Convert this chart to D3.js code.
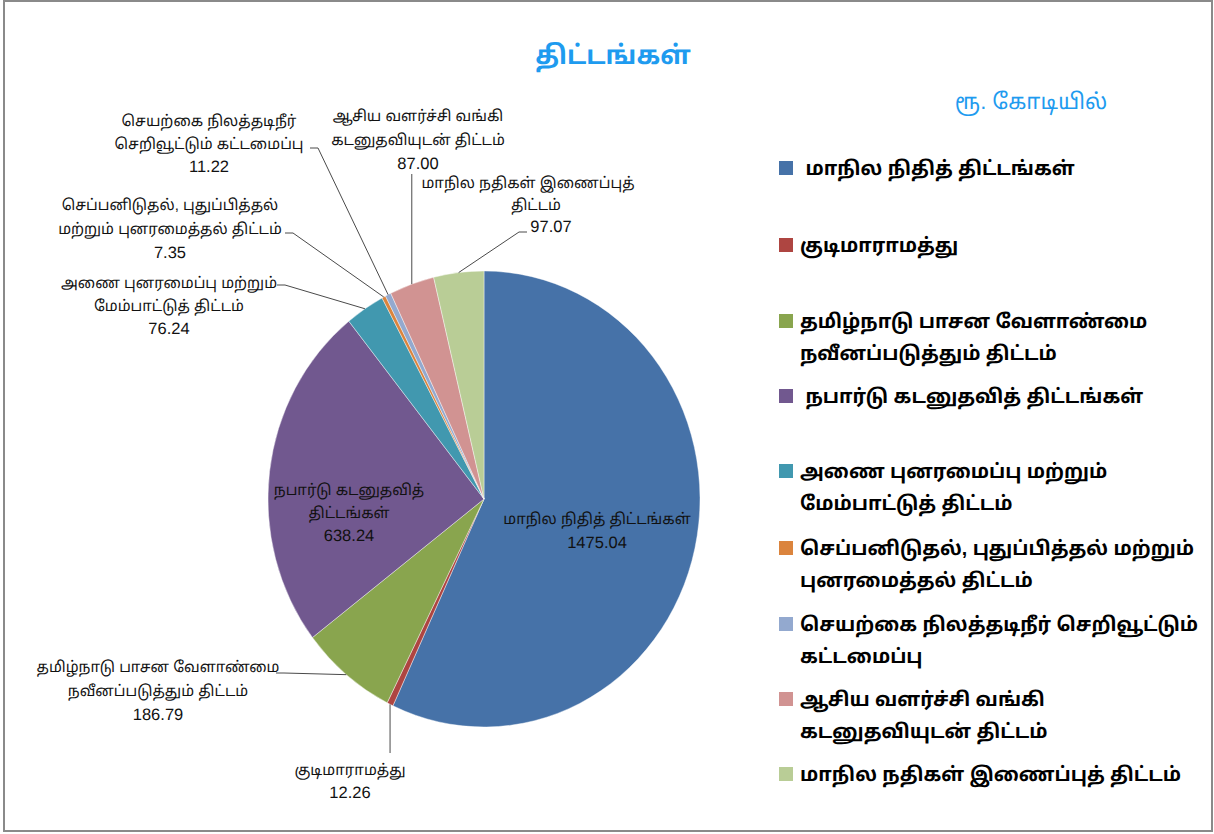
<!DOCTYPE html>
<html><head><meta charset="utf-8">
<script src="https://cdn.jsdelivr.net/npm/d3@7"></script>
<style>
html,body{margin:0;padding:0;background:#fff;}
svg{display:block;}
text{font-family:"Liberation Sans","Noto Sans Tamil",Arial,sans-serif;text-rendering:geometricPrecision;}
</style></head>
<body>
<svg id="chart" width="1214" height="834"></svg>
<script>
// ---- data ----
const categories = [
  "மாநில நிதித் திட்டங்கள்",
  "குடிமாராமத்து",
  "தமிழ்நாடு பாசன வேளாண்மை நவீனப்படுத்தும் திட்டம்",
  "நபார்டு கடனுதவித் திட்டங்கள்",
  "அணை புனரமைப்பு மற்றும் மேம்பாட்டுத் திட்டம்",
  "செப்பனிடுதல், புதுப்பித்தல் மற்றும் புனரமைத்தல் திட்டம்",
  "செயற்கை நிலத்தடிநீர் செறிவூட்டும் கட்டமைப்பு",
  "ஆசிய வளர்ச்சி வங்கி கடனுதவியுடன் திட்டம்",
  "மாநில நதிகள் இணைப்புத் திட்டம்"
];
const values = [1475.04, 12.26, 186.79, 638.24, 76.24, 7.35, 11.22, 87.00, 97.07];
const valueLabels = ["1475.04","12.26","186.79","638.24","76.24","7.35","11.22","87.00","97.07"];
const labelLines = [
  ["மாநில நிதித் திட்டங்கள்"],
  ["குடிமாராமத்து"],
  ["தமிழ்நாடு பாசன வேளாண்மை","நவீனப்படுத்தும் திட்டம்"],
  ["நபார்டு கடனுதவித்","திட்டங்கள்"],
  ["அணை புனரமைப்பு மற்றும்","மேம்பாட்டுத் திட்டம்"],
  ["செப்பனிடுதல், புதுப்பித்தல்","மற்றும் புனரமைத்தல் திட்டம்"],
  ["செயற்கை நிலத்தடிநீர்","செறிவூட்டும் கட்டமைப்பு"],
  ["ஆசிய வளர்ச்சி வங்கி","கடனுதவியுடன் திட்டம்"],
  ["மாநில நதிகள் இணைப்புத்","திட்டம்"]
];
const legendLines = [
  [" மாநில நிதித் திட்டங்கள்"],
  ["குடிமாராமத்து"],
  ["தமிழ்நாடு பாசன வேளாண்மை","நவீனப்படுத்தும் திட்டம்"],
  [" நபார்டு கடனுதவித் திட்டங்கள்"],
  ["அணை புனரமைப்பு மற்றும்","மேம்பாட்டுத் திட்டம்"],
  ["செப்பனிடுதல், புதுப்பித்தல் மற்றும்","புனரமைத்தல் திட்டம்"],
  ["செயற்கை நிலத்தடிநீர் செறிவூட்டும்","கட்டமைப்பு"],
  ["ஆசிய வளர்ச்சி வங்கி","கடனுதவியுடன் திட்டம்"],
  ["மாநில நதிகள் இணைப்புத் திட்டம்"]
];
const colors = ["#4672A8","#AE4541","#89A54E","#71588F","#4198AF","#DB843D","#93A9CF","#D19392","#B9CD96"];
const titleText = "திட்டங்கள்";
const unitText = "ரூ. கோடியில்";

// ---- layout (positions only) ----
const cx = 484, cy = 499, rx = 216, ry = 228;
const labelLayout = [
  {x:597, y:524, step:24, lead:null},
  {x:350, y:775, step:23, lead:[389,753], vert:true},
  {x:158, y:672, step:24, lead:[276,673], dir:1},
  {x:349, y:495, step:23, lead:null},
  {x:169, y:288, step:23, lead:[277,285], dir:1},
  {x:170, y:210, step:24, lead:[285,233], dir:1},
  {x:209, y:126, step:23, lead:[310,148], dir:1},
  {x:418, y:121, step:24, lead:[411,174], vert:true},
  {x:530, y:188, step:22, lead:[527,232], dir:-1, xs:[528,536,551]}
];
const legendY = [168, 245, 321, 396, 471, 548, 624, 699, 774];

const svg = d3.select("#chart");
svg.append("rect").attr("x",4).attr("y",1).attr("width",1208).attr("height",830)
  .attr("fill","#fff").attr("stroke","#8a8a8a").attr("stroke-width",2);

svg.append("text").attr("x",613).attr("y",64).attr("text-anchor","middle")
  .attr("font-size",26).attr("font-weight","bold").attr("fill","#1E9BEF").text(titleText);
svg.append("text").attr("x",1031).attr("y",109).attr("text-anchor","middle")
  .attr("font-size",22).attr("fill","#1E9BEF").text(unitText);

const pie = d3.pie().sort(null).value(d => d)(values);
const arc = d3.arc().innerRadius(0).outerRadius(rx);

const g = svg.append("g").attr("transform",`translate(${cx},${cy}) scale(1,${ry/rx})`);
g.selectAll("path").data(pie).join("path")
  .attr("d", arc).attr("fill",(d,i)=>colors[i])
  .attr("stroke","#fff").attr("stroke-width",0.4);

function edgePoint(d){
  const a = (d.startAngle + d.endAngle)/2;
  return [cx + rx*Math.sin(a), cy - ry*Math.cos(a)];
}

pie.forEach((d,i)=>{
  const L = labelLayout[i];
  if(!L.lead) return;
  const e = edgePoint(d);
  let pts;
  if(L.vert){ pts = [[e[0], L.lead[1]], e]; }
  else { pts = [L.lead, [L.lead[0]+8*L.dir, L.lead[1]], e]; }
  svg.append("path").attr("d", d3.line()(pts))
    .attr("fill","none").attr("stroke","#4a4a4a").attr("stroke-width",1);
});

pie.forEach((d,i)=>{
  const L = labelLayout[i];
  const lines = labelLines[i].concat([valueLabels[i]]);
  const t = svg.append("text").attr("text-anchor","middle").attr("font-size",15).attr("fill","#111");
  lines.forEach((s,k)=>{
    const isVal = k === lines.length-1;
    t.append("tspan").attr("x",L.xs ? L.xs[k] : L.x).attr("y",L.y + k*L.step)
      .attr("font-size", isVal ? 16.5 : 15).text(s);
  });
});

categories.forEach((c,i)=>{
  const y = legendY[i];
  svg.append("rect").attr("x",779).attr("y",y-7).attr("width",14).attr("height",14)
    .attr("fill",colors[i]);
  const t = svg.append("text").attr("font-size",19.5).attr("font-weight","bold").attr("fill","#000")
    .attr("xml:space","preserve");
  legendLines[i].forEach((s,k)=>{
    t.append("tspan").attr("x",800).attr("y",y+7+k*32).text(s);
  });
});
</script>
</body></html>
